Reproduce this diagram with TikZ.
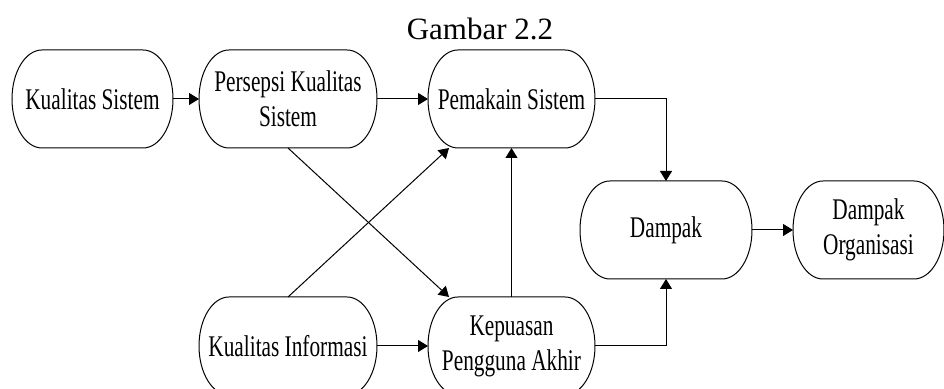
\documentclass[tikz,border=0pt]{standalone}
\usepackage{fontspec}
\setmainfont{Liberation Serif}
\newfontfamily\sempit{Liberation Serif}[FakeStretch=0.71]
\usetikzlibrary{arrows.meta}

\begin{document}
\begin{tikzpicture}[x = 0.5pt,y = -0.5pt,line width = 0.5pt,
  >={Triangle[length=5pt,width=6pt]},
  kotak/.style = {minimum height = 49pt,inner sep = 0pt,outer sep = 0pt,align = center,
    font = \sempit\fontsize{15pt}{17.5pt}\selectfont}]
\def\rx{15pt}
\def\ry{24.5pt}
\useasboundingbox (0,0) rectangle (944,389);
\node [anchor = base,font = \fontsize{15.5pt}{18pt}\selectfont] (judul) at (480,40) {Gambar 2.2};
              %the boxes
\node [kotak,minimum width = 80.5pt] (ks) at (92.5,99) {Kualitas Sistem};
\node [kotak,minimum width = 89pt] (pks) at (288,99) {Persepsi Kualitas\\Sistem};
\node [kotak,minimum width = 83.5pt] (ps) at (511.5,99) {Pemakain Sistem};
\node [kotak,minimum width = 89pt] (ki) at (288,346) {Kualitas Informasi};
\node [kotak,minimum width = 83.5pt] (kpa) at (511.5,346) {Kepuasan\\Pengguna Akhir};
\node [kotak,minimum width = 86pt] (dp) at (666,230) {Dampak};
\node [kotak,minimum width = 75.5pt] (dorg) at (868.5,230) {Dampak\\Organisasi};
              %round the ends
\foreach \n in {ks,pks,ps,ki,kpa,dp,dorg}{
\draw ([xshift = \rx]\n.north west) -- ([xshift = -\rx]\n.north east)
  arc [start angle = 90,end angle = -90,x radius = \rx,y radius = \ry]
  -- ([xshift = \rx]\n.south west)
  arc [start angle = 270,end angle = 90,x radius = \rx,y radius = \ry] -- cycle;
}
              %arrows
\draw [->] (ks) -- (pks);
\draw [->] (pks) -- (ps);
\draw [->] (ps.east) -| (dp.north);
\draw [->] (pks.south) -- ([xshift = 10.5pt]kpa.north west);
\draw [->] (ki.north) -- ([xshift = 10.5pt]ps.south west);
\draw [->] (kpa.north) -- (ps.south);
\draw [->] (ki) -- (kpa);
\draw [->] (kpa.east) -| (dp.south);
\draw [->] (dp) -- (dorg);
\end{tikzpicture}
\end{document}
